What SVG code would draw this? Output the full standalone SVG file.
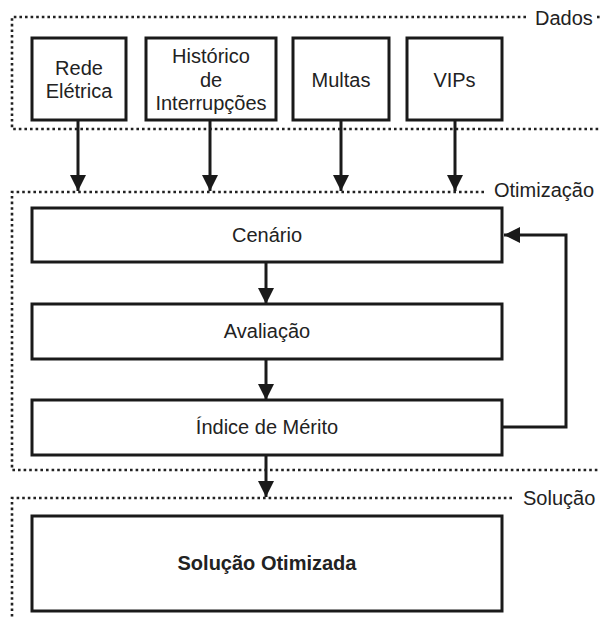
<svg xmlns="http://www.w3.org/2000/svg" width="600" height="618" viewBox="0 0 600 618">
<defs>
<marker id="ah" viewBox="0 0 16 16" refX="16" refY="8" markerWidth="16" markerHeight="16" markerUnits="userSpaceOnUse" orient="auto">
<path d="M0,0 L16,8 L0,16 z" fill="#1a1a1a"/>
</marker>
<style>
.box{fill:#fff;stroke:#1a1a1a;stroke-width:3}
.dot{fill:none;stroke:#222;stroke-width:2.6;stroke-dasharray:2.6 3}
.t{font-family:"Liberation Sans",Arial,sans-serif;font-size:20px;fill:#222;text-anchor:middle}
.lab{font-family:"Liberation Sans",Arial,sans-serif;font-size:20px;fill:#222}
.b{font-weight:bold}
.conn{fill:none;stroke:#1a1a1a;stroke-width:3;marker-end:url(#ah)}
</style>
</defs>
<rect width="600" height="618" fill="#fff"/>
<g id="regions">
<path class="dot" d="M526,17 H12 V129 H600"/>
<path class="dot" d="M597,17 H600"/>
<text class="lab" x="535" y="25">Dados</text>
<path class="dot" d="M484,192 H12 V470 H600"/>
<text class="lab" x="494" y="197">Otimização</text>
<path class="dot" d="M512,498 H12 V618"/>
<text class="lab" x="523" y="505">Solução</text>
</g>
<g id="n_rede"><rect class="box" x="32" y="38" width="94" height="82"/><text class="t" x="79" y="75">Rede</text><text class="t" x="79" y="98">Elétrica</text></g>
<g id="n_hist"><rect class="box" x="146" y="38" width="130" height="82"/><text class="t" x="211" y="63">Histórico</text><text class="t" x="211" y="87">de</text><text class="t" x="211" y="110">Interrupções</text></g>
<g id="n_multas"><rect class="box" x="293" y="38" width="96" height="82"/><text class="t" x="341" y="87">Multas</text></g>
<g id="n_vips"><rect class="box" x="407" y="38" width="95" height="82"/><text class="t" x="454.5" y="87">VIPs</text></g>
<g id="n_cenario"><rect class="box" x="32" y="208" width="470" height="54"/><text class="t" x="267" y="242">Cenário</text></g>
<g id="n_aval"><rect class="box" x="32" y="304" width="470" height="55"/><text class="t" x="267" y="338">Avaliação</text></g>
<g id="n_indice"><rect class="box" x="32" y="400" width="470" height="55"/><text class="t" x="267" y="434">Índice de Mérito</text></g>
<g id="n_sol"><rect class="box" x="32" y="516" width="470" height="95"/><text class="t b" x="267" y="570">Solução Otimizada</text></g>
<g id="connectors">
<path class="conn" d="M78,121 V191"/>
<path class="conn" d="M210,121 V191"/>
<path class="conn" d="M341,121 V191"/>
<path class="conn" d="M455,121 V191"/>
<path class="conn" d="M266,263 V304"/>
<path class="conn" d="M266,360 V400"/>
<path class="conn" d="M266,456 V497"/>
<path class="conn" d="M503,427 H566 V235 H504"/>
</g>
</svg>
